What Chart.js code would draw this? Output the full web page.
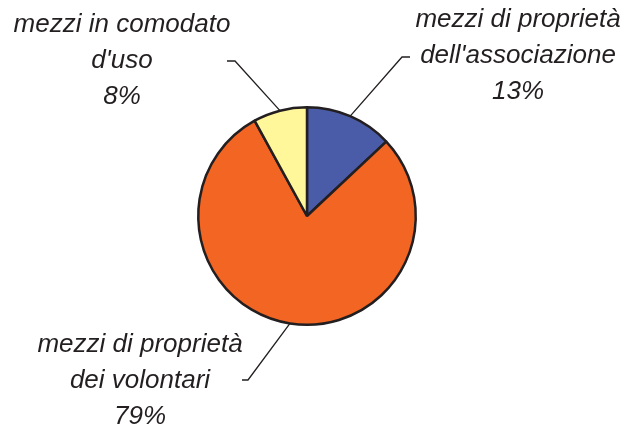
<!DOCTYPE html>
<html>
<head>
<meta charset="utf-8">
<script src="https://cdn.jsdelivr.net/npm/chart.js@4"></script>
<style>
  html, body { margin: 0; padding: 0; background: #fff; }
  canvas { display: block; }
</style>
</head>
<body>
<canvas id="pie" width="626" height="426"></canvas>
<script>
// data
const categories = [
  ['mezzi di proprietà', "dell'associazione"],
  ['mezzi di proprietà', 'dei volontari'],
  ['mezzi in comodato', "d'uso"]
];
const values = [13, 79, 8];
const colors = ['#4a5ca8', '#f26522', '#fff799'];

// where each label sits (centre x, first baseline) and the leader's elbow/end
const labelPos = [
  { x: 518, y: 27, elbow: [402, 57], end: [410, 57] },
  { x: 140, y: 352, elbow: [248, 380], end: [242, 380] },
  { x: 122, y: 32, elbow: [235, 61], end: [227, 61] }
];

const ink = '#231f20';

const labelPlugin = {
  id: 'pieLabels',
  afterDraw(chart) {
    const ctx = chart.ctx;
    const arcs = chart.getDatasetMeta(0).data;
    ctx.save();
    ctx.font = 'italic 26px "Liberation Sans", Arial, sans-serif';
    ctx.fillStyle = ink;
    ctx.strokeStyle = ink;
    ctx.lineWidth = 1.3;
    ctx.textAlign = 'center';
    ctx.textBaseline = 'alphabetic';
    arcs.forEach((arc, i) => {
      const p = labelPos[i];
      const mid = (arc.startAngle + arc.endAngle) / 2;
      const ax = arc.x + Math.cos(mid) * arc.outerRadius;
      const ay = arc.y + Math.sin(mid) * arc.outerRadius;
      ctx.beginPath();
      ctx.moveTo(ax, ay);
      ctx.lineTo(p.elbow[0], p.elbow[1]);
      ctx.lineTo(p.end[0], p.end[1]);
      ctx.stroke();
      const lines = categories[i].concat([values[i] + '%']);
      lines.forEach((t, k) => ctx.fillText(t, p.x, p.y + k * 36));
    });
    ctx.restore();
  }
};

new Chart(document.getElementById('pie'), {
  type: 'pie',
  data: {
    labels: categories.map(c => c.join(' ')),
    datasets: [{
      data: values,
      backgroundColor: colors,
      borderColor: ink,
      borderWidth: 2.5
    }]
  },
  options: {
    responsive: false,
    animation: false,
    layout: { padding: { top: 106, bottom: 100, left: 197, right: 209 } },
    plugins: {
      legend: { display: false },
      tooltip: { enabled: false }
    }
  },
  plugins: [labelPlugin]
});
</script>
</body>
</html>
